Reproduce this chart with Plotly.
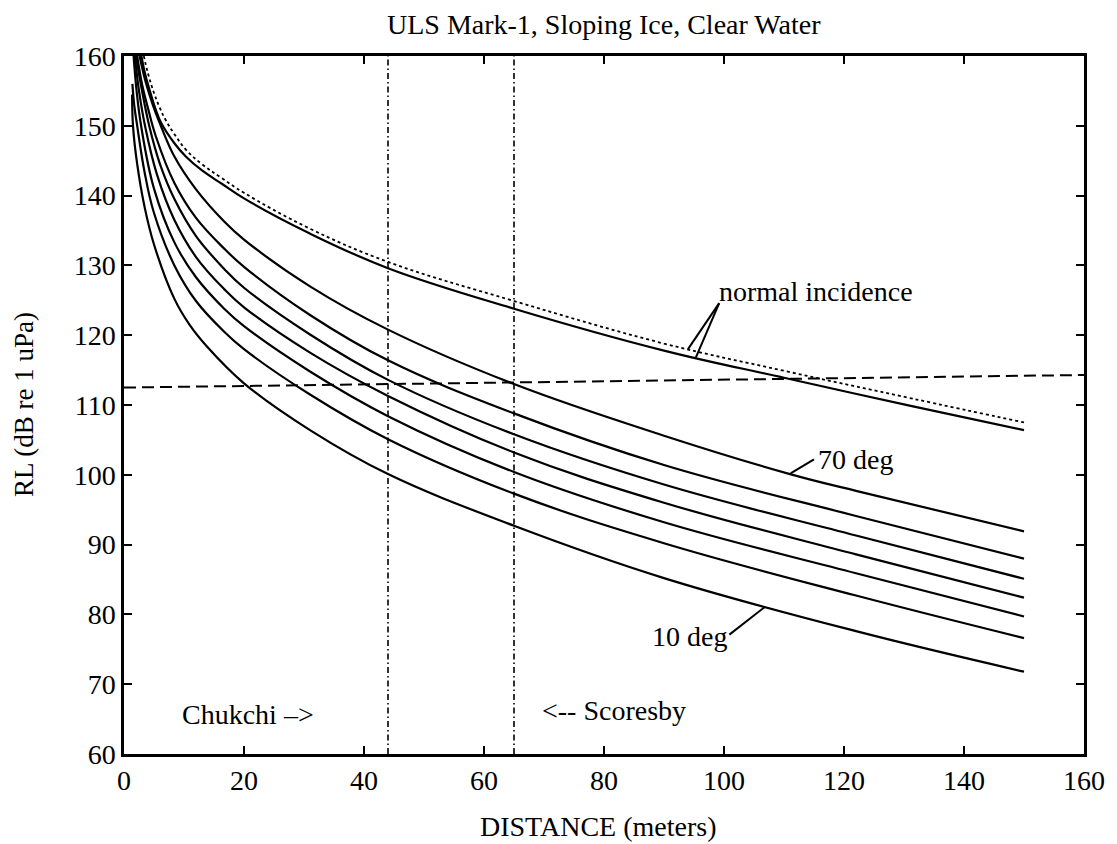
import plotly.graph_objects as go

# ---- data ----
x_normal = [2.9, 3.5, 4.45, 5.3, 6.2, 8.4, 10.3, 13, 16.3, 20, 30.9, 44, 65, 90, 110, 131.5, 150]
y_normal = [160, 157.5, 154.6, 152.3, 150.4, 147.5, 145.6, 143.6, 141.7, 139.6, 134.6, 129.6, 123.8, 117.8, 113.9, 109.8, 106.4]

x_dotted = [3.3, 4.0, 5.0, 5.9, 6.9, 8.4, 10.3, 13, 16.3, 20, 30.9, 44, 65, 90, 110, 131.5, 150]
y_dotted = [160, 157.5, 154.7, 152.7, 150.9, 148.8, 146.6, 144.5, 142.5, 140.4, 135.3, 130.5, 124.9, 118.8, 114.9, 110.9, 107.5]

x_70 = [2.6, 3.6, 4.8, 6.0, 8.4, 12, 16.7, 20, 31, 44, 65, 90, 111, 122, 150]
y_70 = [160, 156.3, 153, 150.3, 145.6, 140.9, 136.3, 133.7, 127.0, 120.8, 113.0, 105.6, 100.1, 97.7, 91.9]

x_60 = [2.2, 3.0, 4.0, 5.3, 8.4, 12, 16.7, 20, 31, 44, 65, 90, 122, 150]
y_60 = [160, 156, 152.5, 148.5, 141.8, 136.8, 132.4, 129.8, 122.9, 116.4, 108.8, 101.4, 94.1, 88.0]

x_50 = [2.0, 2.9, 4.2, 6, 8.4, 12, 16.7, 20, 31, 44, 65, 90, 122, 150]
y_50 = [160, 155.5, 150, 144.5, 139.5, 134.2, 129.5, 126.8, 120.1, 113.6, 105.8, 98.6, 91.3, 85.1]

x_40 = [1.8, 2.5, 3.5, 5.5, 8.4, 12, 16.7, 20, 31, 44, 65, 90, 122, 150]
y_40 = [160, 155, 150, 143, 136.5, 131.2, 126.6, 124.0, 117.5, 111.3, 103.2, 96.0, 88.6, 82.4]

x_30 = [1.6, 2.1, 2.85, 5, 8.4, 12, 16.7, 20, 31, 44, 65, 90, 122, 150]
y_30 = [160, 155, 150, 141, 133.3, 128.3, 123.8, 121.3, 114.8, 108.4, 100.4, 93.2, 85.9, 79.7]

x_20 = [1.4, 1.7, 2.2, 3.4, 5, 8.4, 12, 16.7, 20, 31, 44, 65, 90, 122, 150]
y_20 = [156, 153, 150, 143.5, 137.5, 130.0, 124.9, 120.5, 118.0, 111.5, 105.1, 97.3, 90.2, 82.7, 76.6]

x_10 = [1.35, 1.5, 2.2, 3.4, 5, 8.4, 11, 13.9, 20, 31, 44, 65, 90, 122, 150]
y_10 = [154.5, 150, 144.5, 138.5, 133.0, 125.2, 121.4, 118.3, 113.1, 106.4, 100.1, 92.7, 85.2, 77.6, 71.8]

threshold_x = [0, 160]
threshold_y = [112.5, 114.3]

site_lines_x = [44, 65]

x_ticks = [0, 20, 40, 60, 80, 100, 120, 140, 160]
y_ticks = [60, 70, 80, 90, 100, 110, 120, 130, 140, 150, 160]

FONT = "Liberation Serif"

fig = go.Figure()

solid = dict(color="black", width=2.2)
for xs, ys in [(x_normal, y_normal), (x_70, y_70), (x_60, y_60), (x_50, y_50),
               (x_40, y_40), (x_30, y_30), (x_20, y_20), (x_10, y_10)]:
    fig.add_trace(go.Scatter(x=xs, y=ys, mode="lines", line=dict(solid, shape="spline", smoothing=1.1),
                             showlegend=False, hoverinfo="skip"))

fig.add_trace(go.Scatter(x=x_dotted, y=y_dotted, mode="lines",
                         line=dict(color="black", width=1.8, dash="dot", shape="spline", smoothing=1.1),
                         showlegend=False, hoverinfo="skip"))

fig.add_trace(go.Scatter(x=threshold_x, y=threshold_y, mode="lines",
                         line=dict(color="black", width=2, dash="12px,6px"),
                         showlegend=False, hoverinfo="skip"))

for xv in site_lines_x:
    fig.add_trace(go.Scatter(x=[xv, xv], y=[60, 160], mode="lines",
                             line=dict(color="black", width=1.6, dash="6px,3px,1.5px,3px"),
                             showlegend=False, hoverinfo="skip"))

# labels and pointers
labels = [
    ("normal incidence", 98.9, 126.2, "left"),
    ("70 deg", 115.3, 102.2, "left"),
    ("10 deg", 100.9, 76.8, "right"),
    ("Chukchi –>", 9.4, 65.6, "left"),
    ("<-- Scoresby", 69.4, 66.2, "left"),
]
for txt, lx, ly, anc in labels:
    fig.add_annotation(x=lx, y=ly, text=txt, showarrow=False, xanchor=anc, yanchor="middle",
                       font=dict(family=FONT, size=28, color="black"))

pointers = [
    ((99.2, 124.6), (95.3, 116.8)),
    ((99.2, 124.6), (94.0, 118.0)),
    ((115.0, 102.2), (111.1, 100.2)),
    ((100.9, 77.1), (106.7, 81.0)),
]
for (x0, y0), (x1, y1) in pointers:
    fig.add_shape(type="line", x0=x0, y0=y0, x1=x1, y1=y1, xref="x", yref="y",
                  line=dict(color="black", width=2))

fig.add_annotation(xref="paper", yref="paper", x=0.5, y=1, yshift=32, text="ULS Mark-1, Sloping Ice, Clear Water",
                   showarrow=False, xanchor="center", yanchor="middle",
                   font=dict(family=FONT, size=28, color="black"))
fig.add_annotation(xref="paper", yref="paper", x=0.5, y=0, yshift=-72, xshift=-6, text="DISTANCE (meters)",
                   showarrow=False, xanchor="center", yanchor="middle",
                   font=dict(family=FONT, size=28, color="black"))
fig.add_annotation(xref="paper", yref="paper", x=0, y=0.5, xshift=-100, text="RL (dB re 1 uPa)",
                   showarrow=False, xanchor="center", yanchor="middle", textangle=-90,
                   font=dict(family=FONT, size=27, color="black"))

axis_common = dict(showline=True, linecolor="black", linewidth=2.5, mirror="ticks",
                   ticks="inside", ticklen=8, tickwidth=2, tickcolor="black",
                   showgrid=False, zeroline=False,
                   tickfont=dict(family=FONT, size=28, color="black"))

fig.update_xaxes(range=[0, 160], tickvals=x_ticks, ticktext=[str(v) for v in x_ticks], **axis_common)
fig.update_yaxes(range=[60, 160], tickvals=y_ticks, ticktext=[str(v) for v in y_ticks], **axis_common)

# page body has an 8px margin, so the figure is sized/offset to land on the reference pixels
fig.update_layout(width=1109, height=836, margin=dict(l=116, r=27, t=48, b=90),
                  plot_bgcolor="white", paper_bgcolor="white", showlegend=False)

fig.write_html("out.html")
